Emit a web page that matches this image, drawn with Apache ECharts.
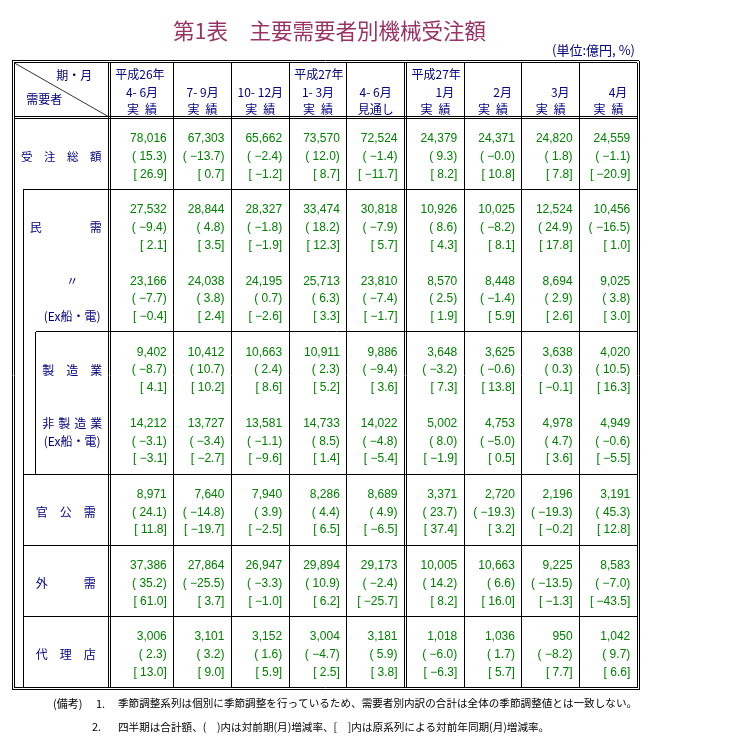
<!DOCTYPE html>
<html><head><meta charset="utf-8">
<script src="https://cdn.jsdelivr.net/npm/echarts@6/dist/echarts.min.js"></script>
<style>html,body{margin:0;padding:0;background:#fff;overflow:hidden}#c{width:753px;height:752px}</style>
</head><body><div id="c"></div>
<script>
// ================= DATA =================
const periodYear   = ['平成26年','','','平成27年','','平成27年','','',''];
const periodLabels = ['4- 6月','7- 9月','10- 12月','1- 3月','4- 6月','1月','2月','3月','4月'];
const periodStatus = ['実\u2002績','実\u2002績','実\u2002績','実\u2002績','見通し','実\u2002績','実\u2002績','実\u2002績','実\u2002績'];
const periodType   = ['q','q','q','q','q','m','m','m','m'];

// 受注総額
const totalValues = [78016, 67303, 65662, 73570, 72524, 24379, 24371, 24820, 24559];
const totalQoQ    = [15.3, -13.7, -2.4, 12.0, -1.4, 9.3, -0, 1.8, -1.1];
const totalYoY    = [26.9, 0.7, -1.2, 8.7, -11.7, 8.2, 10.8, 7.8, -20.9];
// 民需
const privValues  = [27532, 28844, 28327, 33474, 30818, 10926, 10025, 12524, 10456];
const privQoQ     = [-9.4, 4.8, -1.8, 18.2, -7.9, 8.6, -8.2, 24.9, -16.5];
const privYoY     = [2.1, 3.5, -1.9, 12.3, 5.7, 4.3, 8.1, 17.8, 1.0];
// 民需 (Ex船・電)
const privExValues = [23166, 24038, 24195, 25713, 23810, 8570, 8448, 8694, 9025];
const privExQoQ    = [-7.7, 3.8, 0.7, 6.3, -7.4, 2.5, -1.4, 2.9, 3.8];
const privExYoY    = [-0.4, 2.4, -2.6, 3.3, -1.7, 1.9, 5.9, 2.6, 3.0];
// 製造業
const mfgValues   = [9402, 10412, 10663, 10911, 9886, 3648, 3625, 3638, 4020];
const mfgQoQ      = [-8.7, 10.7, 2.4, 2.3, -9.4, -3.2, -0.6, 0.3, 10.5];
const mfgYoY      = [4.1, 10.2, 8.6, 5.2, 3.6, 7.3, 13.8, -0.1, 16.3];
// 非製造業 (Ex船・電)
const nonMfgValues = [14212, 13727, 13581, 14733, 14022, 5002, 4753, 4978, 4949];
const nonMfgQoQ    = [-3.1, -3.4, -1.1, 8.5, -4.8, 8.0, -5.0, 4.7, -0.6];
const nonMfgYoY    = [-3.1, -2.7, -9.6, 1.4, -5.4, -1.9, 0.5, 3.6, -5.5];
// 官公需
const govValues   = [8971, 7640, 7940, 8286, 8689, 3371, 2720, 2196, 3191];
const govQoQ      = [24.1, -14.8, 3.9, 4.4, 4.9, 23.7, -19.3, -19.3, 45.3];
const govYoY      = [11.8, -19.7, -2.5, 6.5, -6.5, 37.4, 3.2, -0.2, 12.8];
// 外需
const extValues   = [37386, 27864, 26947, 29894, 29173, 10005, 10663, 9225, 8583];
const extQoQ      = [35.2, -25.5, -3.3, 10.9, -2.4, 14.2, 6.6, -13.5, -7.0];
const extYoY      = [61.0, 3.7, -1.0, 6.2, -25.7, 8.2, 16.0, -1.3, -43.5];
// 代理店
const agentValues = [3006, 3101, 3152, 3004, 3181, 1018, 1036, 950, 1042];
const agentQoQ    = [2.3, 3.2, 1.6, -4.7, 5.9, -6.0, 1.7, -8.2, 9.7];
const agentYoY    = [13.0, 9.0, 5.9, 2.5, 3.8, -6.3, 5.7, 7.7, 6.6];

const rowBlocks = [
  {values: totalValues,  qoq: totalQoQ,  yoy: totalYoY,  labels: [{t:'受\u3000注\u3000総\u3000額', line:1}], level:0},
  {values: privValues,   qoq: privQoQ,   yoy: privYoY,   labels: [{t:'民\u3000\u3000\u3000\u3000需', line:1}], level:1},
  {values: privExValues, qoq: privExQoQ, yoy: privExYoY, labels: [{t:'〃', line:0}, {t:'(Ex船・電)', line:2}], level:2},
  {values: mfgValues,    qoq: mfgQoQ,    yoy: mfgYoY,    labels: [{t:'製\u3000造\u3000業', line:1}], level:2},
  {values: nonMfgValues, qoq: nonMfgQoQ, yoy: nonMfgYoY, labels: [{t:'非\u2004製\u2004造\u2004業', line:0}, {t:'(Ex船・電)', line:1}], level:2},
  {values: govValues,    qoq: govQoQ,    yoy: govYoY,    labels: [{t:'官\u3000公\u3000需', line:1}], level:1},
  {values: extValues,    qoq: extQoQ,    yoy: extYoY,    labels: [{t:'外\u3000\u3000\u3000需', line:1}], level:1},
  {values: agentValues,  qoq: agentQoQ,  yoy: agentYoY,  labels: [{t:'代\u3000理\u3000店', line:1}], level:1}
];

const titleText = '第1表\u3000主要需要者別機械受注額';
const unitText = '(単位:億円, %)';
const notes = [
  {head:'(備考)', num:'1.', text:'季節調整系列は個別に季節調整を行っているため、需要者別内訳の合計は全体の季節調整値とは一致しない。'},
  {head:'', num:'2.', text:'四半期は合計額、(\u3000)内は対前期(月)増減率、[\u3000]内は原系列による対前年同期(月)増減率。'}
];

// ================= LAYOUT (axis units) =================
const colWidths = [1.1,1,1,1,1,1,1,1,1];
const DBL = 0.035;           // double-rule gap in x units
const DBLY = 0.1125;         // double-rule gap in y units
const colLeft = [], colRight = [];
(function(){ let x = 0; colWidths.forEach((w,i)=>{ if(i===5) x += DBL; colLeft.push(x); x += w; colRight.push(x); }); })();
const XR = colRight[colRight.length-1];
const L0 = -1.664, L1 = -1.508, L2 = -1.288, LSEP = -DBL;
const YTOP = -4.28, YHB = -1.15, YBOT = 30.85;
const levelLeft = [L0, L1, L2];
const blockTop = b => 4*b - 1.15;

// line segments [x1,y1,x2,y2]
const segs = [];
function rect(x1,y1,x2,y2){ segs.push([x1,y1,x2,y1],[x2,y1,x2,y2],[x2,y2,x1,y2],[x1,y2,x1,y1]); }
rect(L0-DBL, YTOP-DBLY, XR+DBL, YBOT+DBLY);
rect(L0, YTOP, XR, YBOT);
segs.push([LSEP, YTOP, LSEP, YBOT], [0, YTOP, 0, YBOT]);
colRight.forEach((r,i)=>{ if(i < colRight.length-1) segs.push([r, YTOP, r, YBOT]); });
segs.push([colLeft[5], YTOP, colLeft[5], YBOT]);
segs.push([L0, YHB-DBLY, XR, YHB-DBLY], [L0, YHB, XR, YHB]);
for (let b = 1; b < rowBlocks.length; b++) {
  if (b === 2 || b === 4) continue; // no rule inside 民需 group rows
  const sx = (b === 3) ? L2 : L1;
  segs.push([sx, blockTop(b), XR, blockTop(b)]);
}
segs.push([L1, blockTop(1), L1, YBOT]);
segs.push([L2, blockTop(3), L2, blockTop(5)]);
const diag = [[L0, YTOP, LSEP, YHB-DBLY]];

// text items
const NUM_FONT = '12px "Liberation Sans Narrow", "Liberation Sans", sans-serif';
const JP_FONT = '12px "Noto Sans CJK JP", sans-serif';
const GREEN = '#008000', NAVY = '#000080';
function fmtPct(v){ const neg = v < 0 || Object.is(v,-0); return (neg ? '\u2212' : '') + Math.abs(v).toFixed(1); }
const texts = [];
rowBlocks.forEach((blk,b)=>{
  for (let c = 0; c < 9; c++) {
    const x = colRight[c];
    texts.push({x, y:4*b,   dx:-7, t: blk.values[c].toLocaleString('en-US'), align:'right', fill:GREEN, font:NUM_FONT});
    texts.push({x, y:4*b+1, dx:-7, t: '( ' + fmtPct(blk.qoq[c]) + ')', align:'right', fill:GREEN, font:NUM_FONT});
    texts.push({x, y:4*b+2, dx:-7, t: '[ ' + fmtPct(blk.yoy[c]) + ']', align:'right', fill:GREEN, font:NUM_FONT});
  }
  const cx = (levelLeft[blk.level] + LSEP)/2;
  blk.labels.forEach(l=>{
    texts.push({x: cx, y: 4*b + l.line, dx:0, t: l.t, align:'center', fill:NAVY, font: b===0 ? '11.5px "Noto Sans CJK JP", sans-serif' : JP_FONT});
  });
});
const HY = [-3.62, -2.62, -1.65];
for (let c = 0; c < 9; c++) {
  if (periodYear[c]) texts.push({x: colLeft[c], y: HY[0], dx: 5, t: periodYear[c], align:'left', fill:NAVY, font:JP_FONT});
  if (periodType[c] === 'q') texts.push({x:(colLeft[c]+colRight[c])/2, y:HY[1], dx:0, t:periodLabels[c], align:'center', fill:NAVY, font:JP_FONT});
  else texts.push({x: colRight[c], y:HY[1], dx:-10, t:periodLabels[c], align:'right', fill:NAVY, font:JP_FONT});
  texts.push({x:(colLeft[c]+colRight[c])/2, y:HY[2], dx:0, t:periodStatus[c], align:'center', fill:NAVY, font:JP_FONT});
}
texts.push({x: LSEP, y: -3.55, dx:-16, t:'期・月', align:'right', fill:NAVY, font:JP_FONT});
texts.push({x: L0, y: -2.2, dx:12, t:'需要者', align:'left', fill:NAVY, font:JP_FONT});

// ================= CHART =================
const chart = echarts.init(document.getElementById('c'), null, {renderer:'canvas'});
const YMIN = -5, YMAX = 31, UNIT_Y = 17.78;
const XMIN = L0 - DBL, XMAX = XR + DBL;
const UNIT_X = 57.69;
const gridLeft = 110.3 + XMIN*UNIT_X;
const gridWidth = (XMAX - XMIN)*UNIT_X;
const gridTop = 139 + YMIN*UNIT_Y;
const gridHeight = (YMAX - YMIN)*UNIT_Y;

function crisp(v){ return Math.round(v - 0.5) + 0.5; }

chart.setOption({
  animation: false,
  backgroundColor: '#fff',
  title: {
    text: titleText, left: 168, top: 15,
    textStyle: {color:'#993366', fontSize: 21.5, fontWeight:'normal', fontFamily:'"Noto Sans CJK JP", sans-serif'}
  },
  grid: {left: gridLeft, top: gridTop, width: gridWidth, height: gridHeight},
  xAxis: {type:'value', min: XMIN, max: XMAX, show:false},
  yAxis: {type:'value', min: YMIN, max: YMAX, inverse:true, show:false},
  graphic: [
    {type:'text', right: 118, top: 44, style:{text: unitText, fill: NAVY, font: '13px "Noto Sans CJK JP", sans-serif'}},
    ...notes.flatMap((n,i)=>{
      const y = 698 + i*23.5;
      const arr = [];
      if (n.head) arr.push({type:'text', left: 53, top: y, style:{text:n.head, fill:'#000', font:'11px "Noto Sans CJK JP", sans-serif'}});
      arr.push({type:'text', left: i===0?96:92, top: y, style:{text:n.num, fill:'#000', font:'11px "Noto Sans CJK JP", sans-serif'}});
      arr.push({type:'text', left: 118, top: y, style:{text:n.text, fill:'#000', font:'10.6px "Noto Sans CJK JP", sans-serif'}});
      return arr;
    })
  ],
  series: [
    {
      type:'custom', name:'rules', clip:false, silent:true,
      data: segs,
      encode: {x:[0,2], y:[1,3]},
      renderItem: function(params, api){
        const p1 = api.coord([api.value(0), api.value(1)]);
        const p2 = api.coord([api.value(2), api.value(3)]);
        let x1=p1[0], y1=p1[1], x2=p2[0], y2=p2[1];
        if (Math.abs(x1-x2) < 0.01) { x1 = x2 = crisp(x1); y1 = Math.round(y1); y2 = Math.round(y2); }
        if (Math.abs(y1-y2) < 0.01) { y1 = y2 = crisp(y1); x1 = Math.round(x1); x2 = Math.round(x2); }
        return {type:'line', shape:{x1,y1,x2,y2}, style:{stroke:'#000', lineWidth:1}};
      }
    },
    {
      type:'custom', name:'diagonal', clip:false, silent:true,
      data: diag,
      encode: {x:[0,2], y:[1,3]},
      renderItem: function(params, api){
        const p1 = api.coord([api.value(0), api.value(1)]);
        const p2 = api.coord([api.value(2), api.value(3)]);
        return {type:'line', shape:{x1:p1[0], y1:p1[1], x2:p2[0], y2:p2[1]}, style:{stroke:'#333', lineWidth:1}};
      }
    },
    {
      type:'custom', name:'cells', clip:false, silent:true,
      data: texts.map(t=>[t.x, t.y]),
      renderItem: function(params, api){
        const it = texts[params.dataIndex];
        const p = api.coord([api.value(0), api.value(1)]);
        return {type:'text', x: p[0] + it.dx, y: p[1],
          style:{text: it.t, fill: it.fill, font: it.font, align: it.align, verticalAlign:'middle', textAlign: it.align, textVerticalAlign:'middle'}};
      }
    }
  ]
});
</script></body></html>
